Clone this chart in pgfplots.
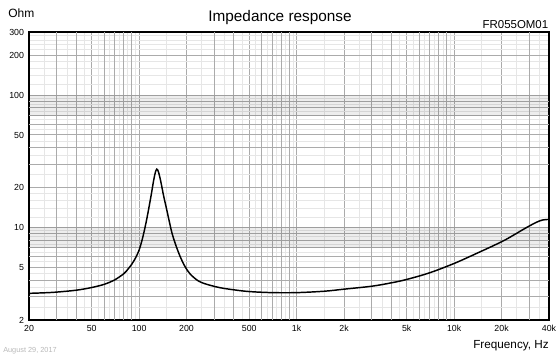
\documentclass[border=0pt]{standalone}
\usepackage{pgfplots}
\pgfplotsset{compat=1.18}
\usepackage{fontspec}
\setmainfont{Liberation Sans}
\definecolor{gmaj}{HTML}{ABABAB}
\definecolor{gmin}{HTML}{E6E6E6}
\definecolor{datec}{HTML}{B8B8B8}
\begin{document}
\begin{tikzpicture}[x=0.75pt,y=0.75pt]
\useasboundingbox (0,0) rectangle (560,356);
\begin{axis}[
  at={(21.75pt,27pt)}, anchor=south west,
  scale only axis, width=390pt, height=216pt,
  xmode=log, ymode=log,
  xmin=20, xmax=40000, ymin=2, ymax=300,
  xtick={20,50,100,200,500,1000,2000,5000,10000,20000,40000},
  xticklabels={20,50,100,200,500,1k,2k,5k,10k,20k,40k},
  ytick={2,5,10,20,50,100,200,300},
  yticklabels={2,5,10,20,50,100,200,300},
  extra x ticks={30,40,60,70,80,90,300,400,600,700,800,900,3000,4000,6000,7000,8000,9000,30000},
  extra x tick labels={},
  extra y ticks={3,4,6,7,8,9,30,40,60,70,80,90},
  extra y tick labels={},
  extra tick style={grid=major, major tick length=0pt},
  minor xtick={25,35,45,55,65,75,85,95,150,250,350,450,550,650,750,850,950,1500,2500,3500,4500,5500,6500,7500,8500,9500,15000,25000,35000},
  minor ytick={2.5,3.5,4.5,5.5,6.5,7.5,8.5,9.5,12,14,16,18,25,35,45,55,65,75,85,95,120,140,160,180,220,240,260,280},
  grid=both,
  major grid style={draw=gmaj, line width=0.75pt},
  minor grid style={draw=gmin, line width=0.75pt},
  major tick length=0pt, minor tick length=0pt,
  tick style={draw=none},
  axis line style={line width=1.2pt, black},
  tick label style={font=\fontsize{6.6}{7}\selectfont},
  xticklabel style={anchor=base, yshift=-8.8pt, inner sep=0pt},
  yticklabel style={anchor=east, xshift=-3.6pt, inner sep=0pt},
]
\fill[black, opacity=0.07] (axis cs:20,70) rectangle (axis cs:40000,100);
\fill[black, opacity=0.07] (axis cs:20,7) rectangle (axis cs:40000,10);
\addplot[black, line width=1.1pt, smooth, tension=0.55] coordinates {
(20,3.18) (25,3.21) (30,3.25) (40,3.36) (50,3.52) (60,3.72) (70,4.02)
(80,4.48) (85,4.85) (90,5.3) (95,5.9) (100,6.75) (104,7.9) (108,9.5) (112,11.7) (116,14.6)
(120,18.3) (123,21.9) (126,25.3) (128,27.0) (129.5,27.6) (131,27.3) (133,26.1) (135,24.3)
(138,21.6) (143,17.4) (150,13.5) (156,10.9) (162,9.0) (170,7.5)
(182,6.05) (195,5.1) (211,4.45) (240,3.92) (282,3.66) (330,3.5)
(400,3.38) (500,3.28) (700,3.22) (1000,3.22) (1500,3.3) (2000,3.42)
(3000,3.6) (4000,3.82) (5000,4.05) (7000,4.55) (10000,5.35)
(14000,6.4) (20000,7.8) (24000,8.8) (28000,9.8) (33000,10.9) (36500,11.4) (40000,11.5)
};
\end{axis}
\node[anchor=base west, inner sep=0pt, font=\fontsize{9}{10}\selectfont] at (8,338.7) {Ohm};
\node[anchor=base, inner sep=0pt, font=\fontsize{11.5}{13}\selectfont] at (280,334) {Impedance response};
\node[anchor=base east, inner sep=0pt, font=\fontsize{8.6}{10}\selectfont] at (548.5,327.7) {FR055OM01};
\node[anchor=base east, inner sep=0pt, font=\fontsize{8.8}{10}\selectfont] at (549,7) {Frequency, Hz};
\node[anchor=base west, inner sep=0pt, text=datec, font=\fontsize{5.5}{6}\selectfont] at (3,3) {August 29, 2017};
\end{tikzpicture}
\end{document}
